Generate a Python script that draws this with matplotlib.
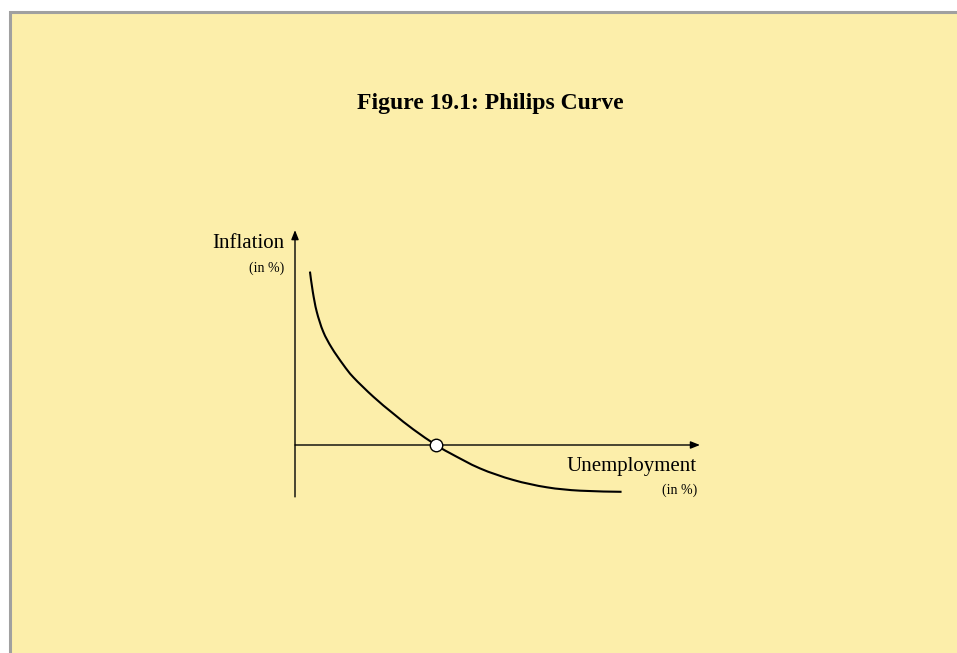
import numpy as np
import matplotlib.pyplot as plt
from matplotlib.patches import Rectangle, PathPatch
from matplotlib.path import Path

W, H = 957, 653

# Phillips curve: unemployment (%) vs inflation (%)
unemployment = [0.53, 0.63, 0.77, 1.00, 1.30, 1.71, 2.07, 2.78, 3.49, 4.20,
                5.00, 5.50, 6.56, 7.74, 8.93, 10.11, 11.58]
inflation = [6.15, 5.44, 4.73, 4.02, 3.45, 2.85, 2.40, 1.71, 1.11, 0.55,
             0.00, -0.29, -0.83, -1.24, -1.50, -1.62, -1.66]
natural_rate = (5.0, 0.0)
x_axis_end = 14.36
y_axis_range = (-1.84, 7.62)

title = "Figure 19.1: Philips Curve"
y_label, x_label, unit_label = "Inflation", "Unemployment", "(in %)"

BG = "#FCEEAA"
SCALE = 28.2           # pixels per percentage point
ORIGIN = (295, 445)    # pixel position of (0, 0)


def px(x, y):
    return x / W, 1 - y / H


def smooth_path(xs, ys):
    pts = np.column_stack([xs, ys])
    verts = [pts[0]]
    codes = [Path.MOVETO]
    n = len(pts)
    for i in range(n - 1):
        p0 = pts[max(i - 1, 0)]
        p1, p2 = pts[i], pts[i + 1]
        p3 = pts[min(i + 2, n - 1)]
        verts += [p1 + (p2 - p0) / 6, p2 - (p3 - p1) / 6, p2]
        codes += [Path.CURVE4] * 3
    return Path(verts, codes)


fig = plt.figure(figsize=(W / 100, H / 100), dpi=100)
fig.patch.set_facecolor("white")

ax = fig.add_axes([0, 0, 1, 1])
ax.set_axis_off()
ax.patch.set_alpha(0)
ax.set_xlim(-ORIGIN[0] / SCALE, (W - ORIGIN[0]) / SCALE)
ax.set_ylim(-(H - ORIGIN[1]) / SCALE, ORIGIN[1] / SCALE)

# panel background with grey border on top/left
ax.add_patch(Rectangle(px(9.5, H + 20), (W + 20) / W, (H + 20 - 11.5) / H,
                       transform=fig.transFigure, facecolor=BG,
                       edgecolor="#A0A0A0", linewidth=2.2, zorder=0,
                       clip_on=False))

arrow = dict(arrowstyle="-|>,head_length=0.55,head_width=0.22", color="black",
             lw=1.0, shrinkA=0, shrinkB=0)
ax.annotate("", xy=(0, y_axis_range[1]), xytext=(0, y_axis_range[0]), arrowprops=arrow)
ax.annotate("", xy=(x_axis_end, 0), xytext=(0, 0), arrowprops=arrow)

ax.add_patch(PathPatch(smooth_path(unemployment, inflation), facecolor="none",
                       edgecolor="black", linewidth=1.5, capstyle="butt", zorder=3))
ax.plot(*natural_rate, marker="o", markersize=9, markerfacecolor="white",
        markeredgecolor="black", markeredgewidth=1.0, zorder=4)

serif = "Liberation Serif"
fig.text(*px(490, 109), title, ha="center", va="baseline", family=serif,
         fontsize=17, fontweight="bold")
fig.text(*px(284, 248), y_label, ha="right", va="baseline", family=serif, fontsize=15)
fig.text(*px(284, 272), unit_label, ha="right", va="baseline", family=serif, fontsize=10)
fig.text(*px(697, 471.5), x_label, ha="right", va="baseline", family=serif, fontsize=15)
fig.text(*px(697, 494), unit_label, ha="right", va="baseline", family=serif, fontsize=10)

fig.savefig("out.png", dpi=100, facecolor=fig.get_facecolor())
